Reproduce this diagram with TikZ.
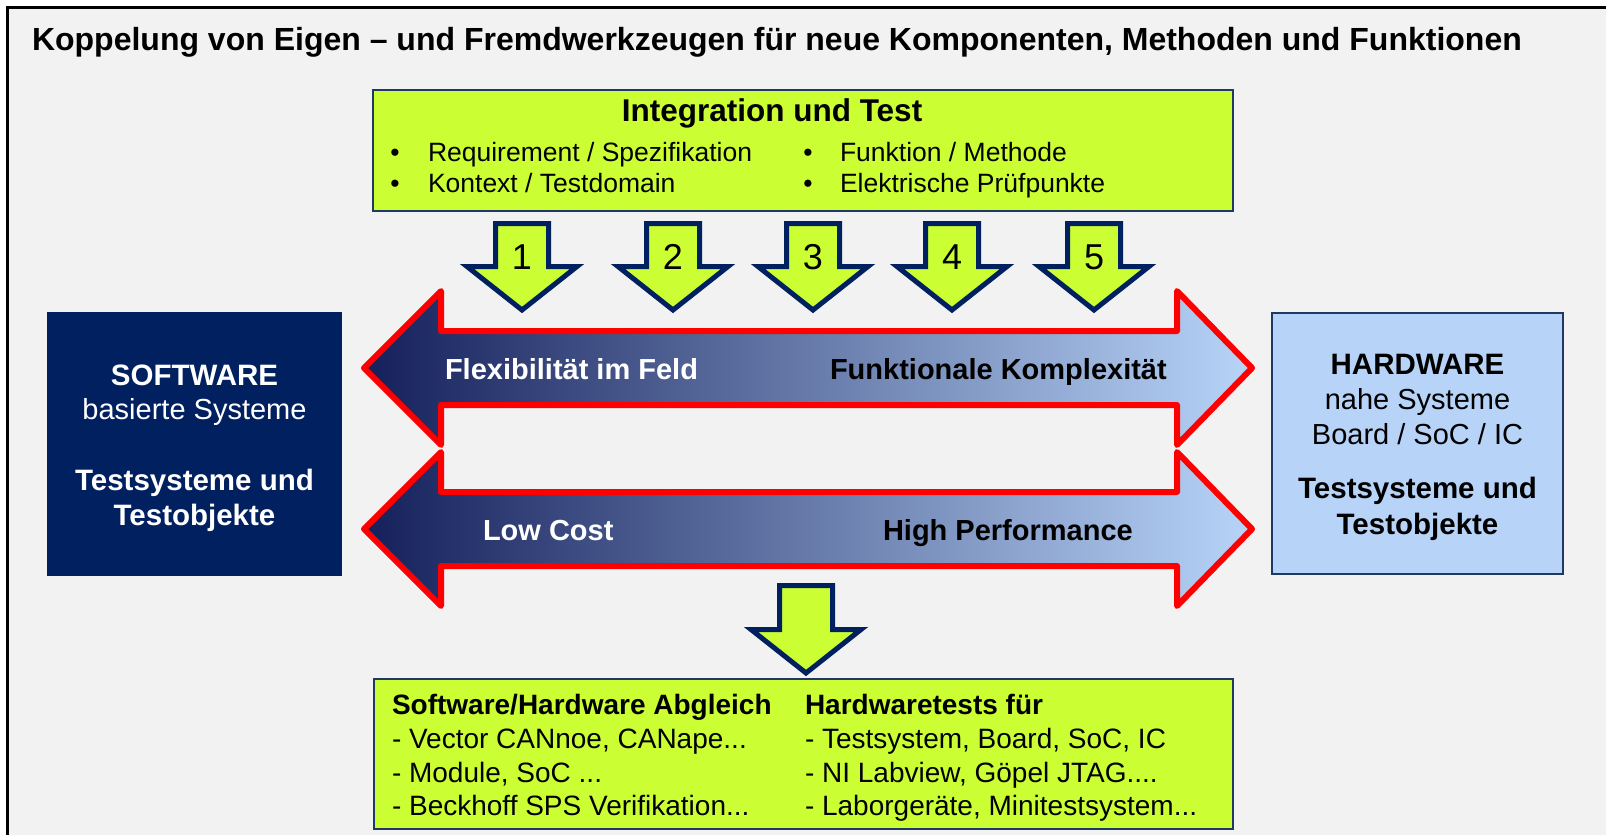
\documentclass[tikz,border=0pt]{standalone}
\usepackage{fontspec}
\setmainfont{Liberation Sans}
\definecolor{bgc}{HTML}{F2F2F2}
\definecolor{lime}{HTML}{CCFF33}
\definecolor{navy}{HTML}{002060}
\definecolor{boxline}{HTML}{1F3864}
\definecolor{hwblue}{HTML}{B7D3F7}
\definecolor{gradL}{HTML}{15205B}
\definecolor{gradM}{HTML}{7F93BE}
\definecolor{gradR}{HTML}{B8D4F8}
\newcommand{\fs}[1]{\fontsize{#1}{#1}\selectfont}
\begin{document}
\begin{tikzpicture}[x=1pt,y=-1pt,
  greenbox/.style={draw=boxline,fill=lime,line width=2pt,inner sep=0pt,rectangle},
  swbox/.style={fill=navy,inner sep=0pt,rectangle},
  hwbox/.style={draw=boxline,fill=hwblue,line width=2pt,inner sep=0pt,rectangle},
  blockarrow/.style={draw=navy,fill=lime,line width=5pt,line join=miter},
  dblarrow/.style={draw=red,line width=6pt,line join=round,left color=gradL,middle color=gradM,right color=gradR},
  txt/.style={inner sep=0pt,outer sep=0pt},
  titlefont/.style={font=\fs{32}\bfseries},
  headfont/.style={font=\fs{31.5}\bfseries},
  itemfont/.style={font=\fs{26.5}},
  arrfont/.style={font=\fs{29}\bfseries},
  sidefont/.style={font=\fs{29}},
  sidebold/.style={font=\fs{29.5}\bfseries},
  numfont/.style={font=\fs{36}},
  botfont/.style={font=\fs{28}},
  botbold/.style={font=\fs{28}\bfseries}
]
\useasboundingbox (0,0) rectangle (1606,835);
\fill[white] (0,0) rectangle (1606,835);
\fill[bgc] (7.5,8) rectangle (1606,835);
\draw[line width=2.5pt] (7.5,845) -- (7.5,7.5) -- (1615,7.5);

% title
\node[txt,titlefont,anchor=base west] (title) at (32,50) {Koppelung von Eigen – und Fremdwerkzeugen für neue Komponenten, Methoden und Funktionen};

% top box
\node[greenbox,minimum width=860pt,minimum height=121pt] (topbox) at (803,150.5) {};
\node[txt,headfont,anchor=base] (tophead) at (772,121) {Integration und Test};
\node[txt,itemfont,anchor=base] (b1) at (395,161) {•};
\node[txt,itemfont,anchor=base west] (t1) at (428,161) {Requirement / Spezifikation};
\node[txt,itemfont,anchor=base] (b2) at (395,192) {•};
\node[txt,itemfont,anchor=base west] (t2) at (428,192) {Kontext / Testdomain};
\node[txt,itemfont,anchor=base] (b3) at (808,161) {•};
\node[txt,itemfont,anchor=base west] (t3) at (840,161) {Funktion / Methode};
\node[txt,itemfont,anchor=base] (b4) at (808,192) {•};
\node[txt,itemfont,anchor=base west] (t4) at (840,192) {Elektrische Prüfpunkte};

% numbered down arrows
\foreach \cx/\i in {522/1,673/2,813/3,952/4,1094/5}{
  \draw[blockarrow] ({\cx-26.5},223.5) -- ({\cx+26.5},223.5) -- ({\cx+26.5},266.5) -- ({\cx+55},266.5)
     -- (\cx,310) -- ({\cx-55},266.5) -- ({\cx-26.5},266.5) -- cycle;
  \node[txt,numfont,anchor=base] (n\i) at (\cx,269) {\i};
}

% double arrows
\foreach \c in {368,529}{
  \path[dblarrow] (364,\c) -- (441,{\c-77}) -- (441,{\c-37}) -- (1177,{\c-37}) -- (1177,{\c-77})
     -- (1252,\c) -- (1177,{\c+77}) -- (1177,{\c+37}) -- (441,{\c+37}) -- (441,{\c+77}) -- cycle;
}
\node[txt,arrfont,text=white,anchor=base west] (flex) at (445,379) {Flexibilität im Feld};
\node[txt,arrfont,anchor=base west] (komp) at (830,379) {Funktionale Komplexität};
\node[txt,arrfont,text=white,anchor=base west] (low) at (483,540) {Low Cost};
\node[txt,arrfont,anchor=base west] (high) at (883,540) {High Performance};

% software box
\node[swbox,minimum width=295pt,minimum height=264pt] (sw) at (194.5,444) {};
\node[txt,sidebold,text=white,anchor=base] (sw1) at (194.5,385) {SOFTWARE};
\node[txt,sidefont,text=white,anchor=base] (sw2) at (194.5,419) {basierte Systeme};
\node[txt,sidebold,text=white,anchor=base] (sw3) at (194.5,490) {Testsysteme und};
\node[txt,sidebold,text=white,anchor=base] (sw4) at (194.5,525) {Testobjekte};

% hardware box
\node[hwbox,minimum width=291pt,minimum height=261pt] (hw) at (1417.5,443.5) {};
\node[txt,sidebold,anchor=base] (hw1) at (1417.5,374) {HARDWARE};
\node[txt,sidefont,anchor=base] (hw2) at (1417.5,409) {nahe Systeme};
\node[txt,sidefont,anchor=base] (hw3) at (1417.5,444) {Board / SoC / IC};
\node[txt,sidebold,anchor=base] (hw4) at (1417.5,498) {Testsysteme und};
\node[txt,sidebold,anchor=base] (hw5) at (1417.5,534) {Testobjekte};

% bottom arrow
\draw[blockarrow] (779.5,585.5) -- (832.5,585.5) -- (832.5,629.5) -- (861,629.5)
   -- (806,673) -- (751,629.5) -- (779.5,629.5) -- cycle;

% bottom box
\node[greenbox,minimum width=859pt,minimum height=150pt] (botbox) at (803.5,754) {};
\node[txt,botbold,anchor=base west] (l1) at (392,714) {Software/Hardware Abgleich};
\node[txt,botfont,anchor=base west] (l2) at (392,748) {- Vector CANnoe, CANape...};
\node[txt,botfont,anchor=base west] (l3) at (392,782) {- Module, SoC ...};
\node[txt,botfont,anchor=base west] (l4) at (392,815) {- Beckhoff SPS Verifikation...};
\node[txt,botbold,anchor=base west] (r1) at (805,714) {Hardwaretests für};
\node[txt,botfont,anchor=base west] (r2) at (805,748) {- Testsystem, Board, SoC, IC};
\node[txt,botfont,anchor=base west] (r3) at (805,782) {- NI Labview, Göpel JTAG....};
\node[txt,botfont,anchor=base west] (r4) at (805,815) {- Laborgeräte, Minitestsystem...};
\end{tikzpicture}
\end{document}
